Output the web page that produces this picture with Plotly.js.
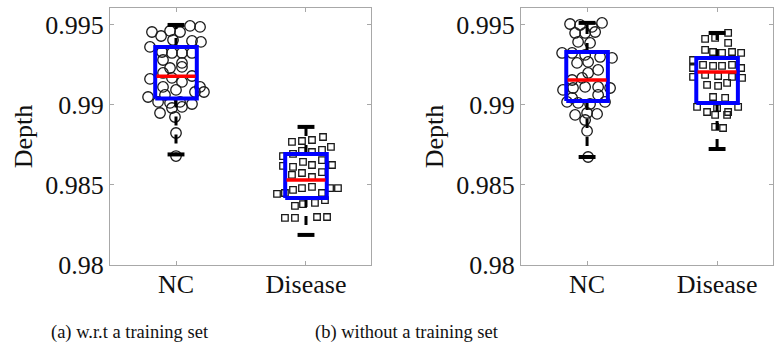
<!DOCTYPE html>
<html>
<head>
<meta charset="utf-8">
<script src="https://cdn.plot.ly/plotly-3.0.1.min.js"></script>
<style>html,body{margin:0;padding:0;background:#fff;}#chart{width:775px;height:354px;}</style>
</head>
<body>
<div id="chart"></div>
<script>
// ---- data ----
var categories = ["NC", "Disease"];
var yTickVals = [0.98, 0.985, 0.99, 0.995];
var yTickText = ["0.98", "0.985", "0.99", "0.995"];
var captions = ["(a) w.r.t a training set", "(b) without a training set"];
var yTitle = "Depth";

// panel (a): w.r.t a training set
var aNC_x = [-0.185,-0.115,-0.046,0.031,0.108,0.185,-0.023,0.123,0.192,-0.2,-0.108,-0.031,0.046,0.123,-0.1,0.046,-0.046,0.046,-0.1,0.046,-0.031,-0.2,-0.1,0,0.123,0.185,0.215,-0.215,-0.138,-0.046,0.031,0.123,-0.123,-0.031,0.046,-0.008,0,0,0.146,-0.085];
var aNC_y = [0.99456,0.99431,0.99463,0.99456,0.99494,0.99488,0.99406,0.99400,0.99394,0.99363,0.99331,0.99325,0.99325,0.99325,0.99281,0.99263,0.99231,0.99238,0.99200,0.99144,0.99169,0.99163,0.99113,0.99094,0.99181,0.99113,0.99081,0.99050,0.99019,0.99013,0.99019,0.99006,0.98950,0.98981,0.98988,0.98925,0.98825,0.98681,0.99081,0.99063];
var aDis_x = [0.892,0.969,1.046,1.131,0.823,0.9,0.969,1.046,1.123,1.192,0.823,0.9,0.977,1.046,1.123,1.2,0.892,0.969,1.046,1.123,0.777,0.838,0.9,0.969,1.046,1.123,1.185,1.246,0.915,0.977,1.069,1.146,0.838,0.915,1.085,1.162];
var aDis_y = [0.98769,0.98775,0.98781,0.98800,0.98681,0.98694,0.98713,0.98706,0.98719,0.98738,0.98619,0.98613,0.98644,0.98625,0.98656,0.98625,0.98563,0.98575,0.98550,0.98581,0.98444,0.98450,0.98469,0.98481,0.98488,0.98450,0.98481,0.98481,0.98369,0.98381,0.98388,0.98406,0.98294,0.98294,0.98300,0.98300];
var aQ1  = [0.9904, 0.98419];
var aMed = [0.9918, 0.98531];
var aQ3  = [0.99362, 0.98694];
var aLo  = [0.98691, 0.98188];
var aHi  = [0.9950, 0.98863];

// panel (b): without a training set
var bNC_x = [-0.131,-0.054,0.038,0.115,-0.092,-0.015,0.062,-0.069,0.023,-0.192,-0.115,-0.015,0.1,0.192,-0.077,0.008,0.085,0.008,-0.115,-0.038,-0.185,-0.108,-0.015,0.085,0.177,-0.115,0.085,-0.154,-0.069,0.023,0.138,-0.092,0,0.077,-0.015,0,0.008];
var bNC_y = [0.99506,0.995,0.99488,0.99513,0.9945,0.9945,0.99456,0.99394,0.99388,0.99325,0.99325,0.99313,0.993,0.99294,0.99263,0.99269,0.99219,0.992,0.99156,0.99169,0.99094,0.99106,0.99113,0.99113,0.99106,0.99044,0.99063,0.99019,0.99013,0.99006,0.99019,0.98938,0.9895,0.98944,0.98906,0.98838,0.98675];
var bDis_x = [0.908,0.985,1.085,1.085,0.908,0.969,1.038,1.115,0.815,0.892,0.969,1.038,1.115,1.185,1.185,1.192,0.815,0.815,0.908,1.008,1.115,0.923,1.008,1.077,0.969,1.062,0.846,0.923,1,1.085,1.162,0.985,1.077,0.985,1.046];
var bDis_y = [0.99413,0.99419,0.9945,0.99388,0.99344,0.99331,0.99325,0.99331,0.99281,0.9925,0.99244,0.99244,0.9925,0.99325,0.99231,0.99169,0.99231,0.99175,0.99188,0.99181,0.99175,0.99125,0.99119,0.99138,0.9905,0.99044,0.98988,0.98956,0.98981,0.98956,0.98988,0.98938,0.98938,0.98863,0.98856];
var bQ1  = [0.99025, 0.99013];
var bMed = [0.99156, 0.99206];
var bQ3  = [0.99331, 0.99294];
var bLo  = [0.98675, 0.98725];
var bHi  = [0.99513, 0.9945];

// ---- styling ----
var FONT = "Liberation Serif, Times New Roman, serif";
var BOXW = 0.16, CAPW = 0.065;

function panelTraces(ncx, ncy, dx, dy, q1, med, q3, lo, hi, xa, ya) {
  var t = [];
  t.push({type:"scatter", mode:"markers", x:ncx, y:ncy, xaxis:xa, yaxis:ya, hoverinfo:"skip",
          marker:{symbol:"circle-open", size:10.5, color:"#1a1a1a", line:{width:1.3, color:"#1a1a1a"}}});
  t.push({type:"scatter", mode:"markers", x:dx, y:dy, xaxis:xa, yaxis:ya, hoverinfo:"skip",
          marker:{symbol:"square-open", size:6.5, color:"#1a1a1a", line:{width:1.3, color:"#1a1a1a"}}});
  for (var i = 0; i < 2; i++) {
    var c = i;
    // whiskers
    t.push({type:"scatter", mode:"lines", xaxis:xa, yaxis:ya, hoverinfo:"skip",
            x:[c, c, null, c, c], y:[q3[i], hi[i], null, q1[i], lo[i]],
            line:{color:"#000", width:3, dash:"dash"}});
    // caps
    t.push({type:"scatter", mode:"lines", xaxis:xa, yaxis:ya, hoverinfo:"skip",
            x:[c-CAPW, c+CAPW, null, c-CAPW, c+CAPW], y:[hi[i], hi[i], null, lo[i], lo[i]],
            line:{color:"#000", width:4}});
    // box
    t.push({type:"scatter", mode:"lines", xaxis:xa, yaxis:ya, hoverinfo:"skip",
            x:[c-BOXW, c+BOXW, c+BOXW, c-BOXW, c-BOXW], y:[q1[i], q1[i], q3[i], q3[i], q1[i]],
            line:{color:"#0000ff", width:4}});
    // median
    t.push({type:"scatter", mode:"lines", xaxis:xa, yaxis:ya, hoverinfo:"skip",
            x:[c-BOXW+0.01, c+BOXW-0.01], y:[med[i], med[i]],
            line:{color:"#ff0000", width:3.5}});
  }
  return t;
}

var traces = [].concat(
  panelTraces(aNC_x, aNC_y, aDis_x, aDis_y, aQ1, aMed, aQ3, aLo, aHi, "x", "y"),
  panelTraces(bNC_x, bNC_y, bDis_x, bDis_y, bQ1, bMed, bQ3, bLo, bHi, "x2", "y2")
);

function xAxis(domain, range, anchor) {
  return {domain:domain, range:range, anchor:anchor, tickvals:[0,1], ticktext:categories,
          showline:true, mirror:"ticks", linecolor:"#a8a8a8", linewidth:1,
          ticks:"inside", ticklen:4, tickcolor:"#a8a8a8", showgrid:false, zeroline:false,
          ticklabelstandoff:-4,
          tickfont:{family:FONT, size:26, color:"#111"}, fixedrange:true};
}
function yAxis(anchor) {
  return {domain:[0.2514, 0.9774], range:[0.98, 0.99606], anchor:anchor,
          tickvals:yTickVals, ticktext:yTickText,
          showline:true, mirror:"ticks", linecolor:"#a8a8a8", linewidth:1,
          ticks:"inside", ticklen:4, tickcolor:"#a8a8a8", showgrid:false, zeroline:false,
          tickfont:{family:FONT, size:26, color:"#111"},
          title:{text:yTitle, font:{family:FONT, size:26, color:"#111"}, standoff:5},
          fixedrange:true};
}

var layout = {
  width:775, height:354, margin:{l:0, r:0, t:0, b:0},
  paper_bgcolor:"#fff", plot_bgcolor:"#fff", showlegend:false,
  xaxis: xAxis([0.1419, 0.4787], [-0.508, 1.5], "y"),
  yaxis: yAxis("x"),
  xaxis2: xAxis([0.6723, 0.9974], [-0.508, 1.43], "y2"),
  yaxis2: yAxis("x2"),
  annotations: [
    {text:captions[0], xref:"paper", yref:"paper", x:130/775, y:(354-332)/354, xanchor:"center", yanchor:"middle",
     showarrow:false, font:{family:FONT, size:18.5, color:"#111"}},
    {text:captions[1], xref:"paper", yref:"paper", x:407/775, y:(354-332)/354, xanchor:"center", yanchor:"middle",
     showarrow:false, font:{family:FONT, size:18.5, color:"#111"}}
  ]
};

Plotly.newPlot("chart", traces, layout, {staticPlot:true, displayModeBar:false});
</script>
</body>
</html>
